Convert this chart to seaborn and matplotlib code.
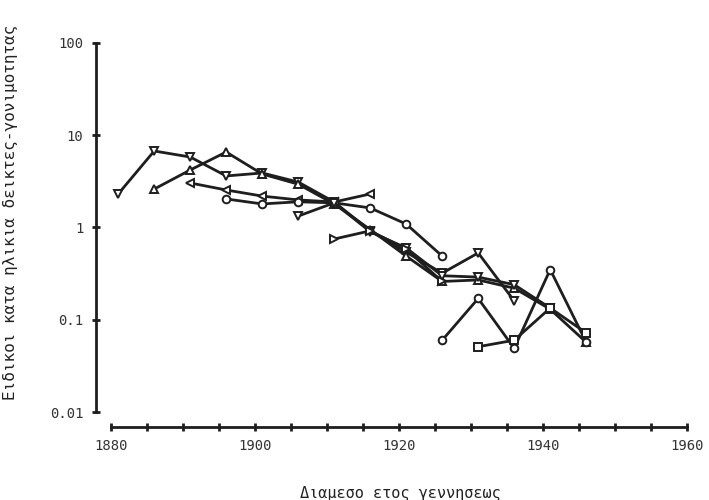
import matplotlib
matplotlib.use("Agg")
import matplotlib.pyplot as plt
import seaborn as sns
import numpy as np
import pandas as pd

# ---- data ----
years_s1 = [1881, 1886, 1891, 1896, 1901, 1906, 1911, 1916, 1921, 1926, 1931, 1936]
vals_s1 = [2.31, 6.75, 5.81, 3.62, 3.9, 3.11, 1.89, 0.92, 0.54, 0.32, 0.53, 0.16]

years_s2 = [1886, 1891, 1896, 1901, 1906, 1911, 1916, 1921, 1926, 1931, 1936, 1941, 1946]
vals_s2 = [2.61, 4.2, 6.58, 3.8, 2.95, 1.8, 0.95, 0.49, 0.26, 0.27, 0.22, 0.13, 0.057]

years_s3 = [1891, 1896, 1901, 1906, 1911, 1916]
vals_s3 = [3.04, 2.55, 2.19, 1.99, 1.89, 2.31]

years_s4 = [1896, 1901, 1906, 1911, 1916, 1921, 1926]
vals_s4 = [2.04, 1.80, 1.90, 1.85, 1.63, 1.09, 0.49]

years_s5 = [1906, 1911, 1916, 1921, 1926, 1931, 1936, 1941]
vals_s5 = [1.33, 1.85, 0.90, 0.60, 0.30, 0.29, 0.24, 0.134]

years_s6 = [1911, 1916, 1921, 1926]
vals_s6 = [0.75, 0.92, 0.58, 0.26]

years_s7 = [1926, 1931, 1936, 1941, 1946]
vals_s7 = [0.060, 0.17, 0.049, 0.35, 0.057]

years_s8 = [1931, 1936, 1941, 1946]
vals_s8 = [0.051, 0.060, 0.134, 0.072]

series = [
    (years_s1, vals_s1, "v"),
    (years_s2, vals_s2, "^"),
    (years_s3, vals_s3, "<"),
    (years_s4, vals_s4, "o"),
    (years_s5, vals_s5, "v"),
    (years_s6, vals_s6, ">"),
    (years_s7, vals_s7, "o"),
    (years_s8, vals_s8, "s"),
]

x_ticks = [1880, 1900, 1920, 1940, 1960]
x_tick_labels = ["1880", "1900", "1920", "1940", "1960"]
y_ticks = [0.01, 0.1, 1, 10, 100]
y_tick_labels = ["0.01", "0.1", "1", "10", "100"]

x_label = "Διαμεσο ετος γεννησεως"
y_label = "Ειδικοι κατα ηλικια δεικτες-γονιμοτητας"

# ---- style ----
sns.set_theme(style="white")
plt.rcParams["font.family"] = ["DejaVu Sans Mono", "DejaVu Sans"]

ink = "#1e1e1e"
fig = plt.figure(figsize=(7.09, 5.0), dpi=100)
ax = fig.add_axes([96 / 709, 1 - 427 / 500, (687 - 96) / 709, (427 - 43) / 500])

for yrs, vals, mk in series:
    df = pd.DataFrame({"year": yrs, "value": vals})
    sns.lineplot(data=df, x="year", y="value", ax=ax, color=ink, lw=2.0,
                 marker=mk, markersize=5.5, markerfacecolor="white",
                 markeredgecolor=ink, markeredgewidth=1.4, legend=False,
                 errorbar=None, sort=False)

ax.set_yscale("log")
ax.set_xlim(1880 - 15 / 7.2, 1960)
ax.set_ylim(10 ** (-2 - 15 / 92.25), 100)

for s in ["top", "right"]:
    ax.spines[s].set_visible(False)
for s in ["left", "bottom"]:
    ax.spines[s].set_color(ink)
    ax.spines[s].set_linewidth(2.0)
ax.spines["left"].set_bounds(0.01, 100)
ax.spines["bottom"].set_bounds(1880, 1960)

ax.set_xticks(x_ticks)
ax.set_xticklabels(x_tick_labels)
ax.set_xticks(np.arange(1880, 1961, 5), minor=True)
ax.set_yticks(y_ticks)
ax.set_yticklabels(y_tick_labels)
ax.yaxis.set_minor_locator(matplotlib.ticker.NullLocator())

ax.tick_params(axis="both", which="both", direction="inout", length=6,
               width=2.0, color=ink, labelsize=10, labelcolor="#333333",
               bottom=True, left=True)
ax.tick_params(axis="x", pad=6)
ax.tick_params(axis="y", pad=6)

ax.set_xlabel(x_label, fontsize=11, color="#222222")
ax.xaxis.set_label_coords((400 - 96) / 591, (427 - 486) / 384)
ax.set_ylabel(y_label, fontsize=11.5, color="#222222")
ax.yaxis.set_label_coords((18 - 96) / 591, (427 - 212) / 384)

ax.set_facecolor("white")
fig.patch.set_facecolor("white")
fig.savefig("out.png", dpi=100)
